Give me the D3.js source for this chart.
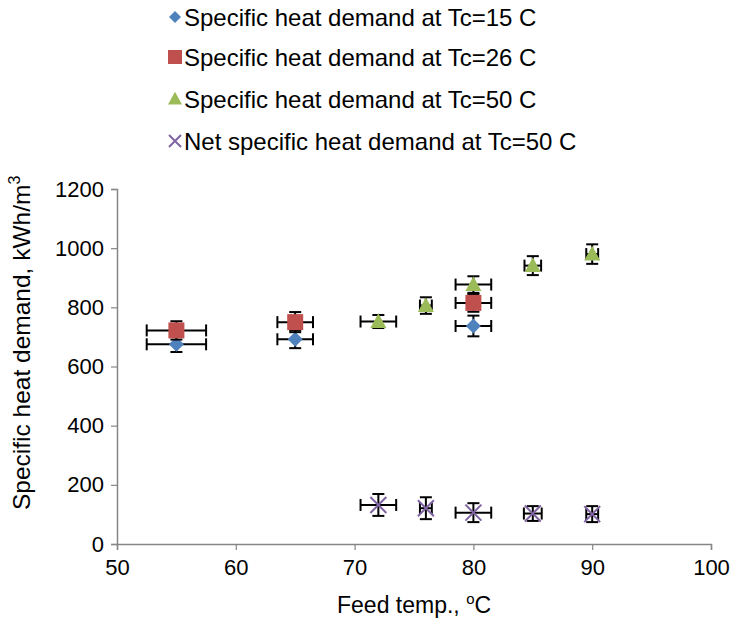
<!DOCTYPE html>
<html><head><meta charset="utf-8">
<script src="https://cdn.jsdelivr.net/npm/d3@7"></script>
<style>body{margin:0;background:#fff}svg{font-family:"Liberation Sans",Arial,sans-serif}</style>
</head><body><svg id="c" width="736" height="624"></svg>
<script>
const seriesNames = ["Specific heat demand at Tc=15 C","Specific heat demand at Tc=26 C","Specific heat demand at Tc=50 C","Net specific heat demand at Tc=50 C"];
const tc15X = [55, 65, 80];
const tc15Y = [675, 692, 737];
const tc15Xerr = [2.5, 1.5, 1.5];
const tc15Yerr = [26, 30, 35];
const tc26X = [55, 65, 80];
const tc26Y = [722, 750, 815];
const tc26Xerr = [2.5, 1.5, 1.5];
const tc26Yerr = [31, 34, 30];
const tc50X = [72, 76, 80, 85, 90];
const tc50Y = [752, 806, 877, 941, 980];
const tc50Xerr = [1.5, 0.5, 1.5, 0.7, 0.5];
const tc50Yerr = [22, 28, 28, 32, 33];
const netX = [72, 76, 80, 85, 90];
const netY = [132, 121, 106, 103, 101];
const netXerr = [1.5, 0.5, 1.5, 0.75, 0.5];
const netYerr = [37, 37, 32, 25, 27];
const xTicks = [50, 60, 70, 80, 90, 100];
const yTicks = [0, 200, 400, 600, 800, 1000, 1200];

const colors = ["#4F81BD", "#C0504D", "#9BBB59", "#8064A2"];
const symbols = ["diamond", "square", "triangle", "x"];
const series = [
  {X: tc15X, Y: tc15Y, ex: tc15Xerr, ey: tc15Yerr},
  {X: tc26X, Y: tc26Y, ex: tc26Xerr, ey: tc26Yerr},
  {X: tc50X, Y: tc50Y, ex: tc50Xerr, ey: tc50Yerr},
  {X: netX, Y: netY, ex: netXerr, ey: netYerr}
];

const svg = d3.select("#c");
const L = 117, R = 711, T = 189, B = 544;
const x = d3.scaleLinear().domain([50, 100]).range([L, R]);
const y = d3.scaleLinear().domain([0, 1200]).range([B, T]);
const axisColor = "#868686";
const fmt = d3.format("d");

// axes
const ya = svg.append("g").attr("transform", `translate(${L},0)`)
  .call(d3.axisLeft(y).tickValues(yTicks).tickFormat(fmt).tickSize(6).tickPadding(7));
const xa = svg.append("g").attr("transform", `translate(0,${B})`)
  .call(d3.axisBottom(x).tickValues(xTicks).tickFormat(fmt).tickSize(6).tickPadding(9));
[ya, xa].forEach(g => {
  g.select(".domain").attr("stroke", axisColor).attr("stroke-width", 1.5);
  g.selectAll(".tick line").attr("stroke", axisColor).attr("stroke-width", 1.2);
  g.selectAll(".tick text").attr("fill", "#000").attr("font-size", 22)
    .attr("font-family", "Liberation Sans, Arial, sans-serif");
});

// axis titles
const yt = svg.append("text").attr("transform", `translate(30,510) rotate(-90)`)
  .attr("text-anchor", "start").attr("font-size", 24.5).attr("fill", "#000");
yt.append("tspan").text("Specific heat demand, kWh/m");
yt.append("tspan").text("3").attr("font-size", 16).attr("dy", -10);
const xt = svg.append("text").attr("x", 337).attr("y", 613)
  .attr("text-anchor", "start").attr("font-size", 23).attr("fill", "#000");
xt.append("tspan").text("Feed temp., ");
xt.append("tspan").text("o").attr("font-size", 15).attr("dy", -9);
xt.append("tspan").text("C").attr("dy", 9);

function drawMarker(g, type, color, cx, cy, s) {
  if (type === "diamond") {
    g.append("path").attr("d", `M${cx},${cy-s}L${cx+s},${cy}L${cx},${cy+s}L${cx-s},${cy}Z`).attr("fill", color);
  } else if (type === "square") {
    g.append("rect").attr("x", cx-s).attr("y", cy-s).attr("width", 2*s).attr("height", 2*s).attr("fill", color);
  } else if (type === "triangle") {
    g.append("path").attr("d", `M${cx},${cy-s*1.05}L${cx+s},${cy+s*0.8}L${cx-s},${cy+s*0.8}Z`).attr("fill", color);
  } else {
    g.append("path").attr("d", `M${cx-s},${cy-s}L${cx+s},${cy+s}M${cx+s},${cy-s}L${cx-s},${cy+s}`)
      .attr("stroke", color).attr("stroke-width", 2).attr("fill", "none");
  }
}
const msize = [7.5, 8, 8, 8];

const plot = svg.append("g");
series.forEach((s, si) => {
  const g = plot.append("g");
  s.X.forEach((xv, i) => {
    const cx = x(xv), cy = y(s.Y[i]);
    const x0 = x(xv - s.ex[i]), x1 = x(xv + s.ex[i]);
    const y0 = y(s.Y[i] - s.ey[i]), y1 = y(s.Y[i] + s.ey[i]);
    const eb = g.append("g").attr("stroke", "#000").attr("stroke-width", 2).attr("fill", "none");
    eb.append("line").attr("x1", x0).attr("x2", x1).attr("y1", cy).attr("y2", cy);
    eb.append("line").attr("x1", x0).attr("x2", x0).attr("y1", cy-6).attr("y2", cy+6);
    eb.append("line").attr("x1", x1).attr("x2", x1).attr("y1", cy-6).attr("y2", cy+6);
    eb.append("line").attr("x1", cx).attr("x2", cx).attr("y1", y0).attr("y2", y1);
    eb.append("line").attr("x1", cx-6).attr("x2", cx+6).attr("y1", y0).attr("y2", y0);
    eb.append("line").attr("x1", cx-6).attr("x2", cx+6).attr("y1", y1).attr("y2", y1);
  });
  s.X.forEach((xv, i) => drawMarker(g, symbols[si], colors[si], x(xv), y(s.Y[i]), msize[si]));
});

// legend
const legY = [17, 57, 99, 141];
const lg = svg.append("g");
seriesNames.forEach((n, i) => {
  drawMarker(lg, symbols[i], colors[i], 175, legY[i], i === 0 ? 6 : (i === 3 ? 6 : 7));
  lg.append("text").attr("x", 184).attr("y", legY[i]).attr("dy", "0.36em")
    .attr("font-size", 24).attr("fill", "#000").text(n);
});
</script></body></html>
